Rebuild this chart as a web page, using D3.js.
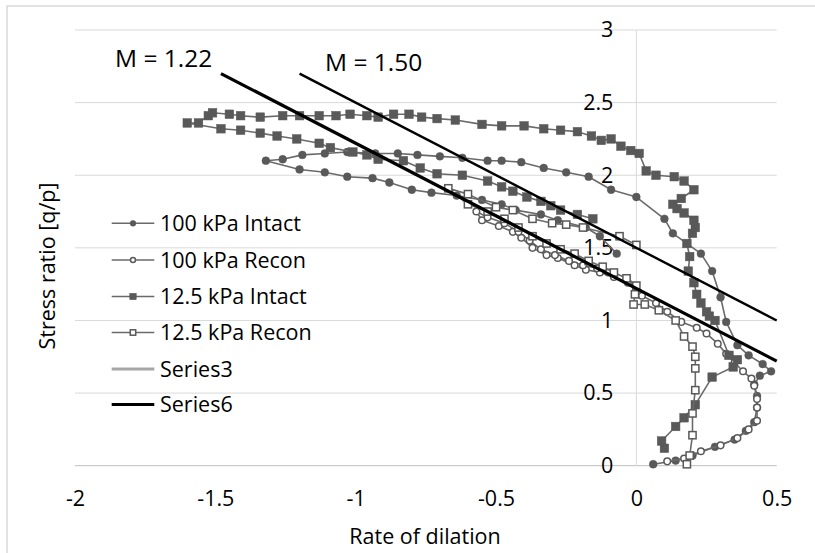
<!DOCTYPE html>
<html>
<head>
<meta charset="utf-8">
<script src="https://cdn.jsdelivr.net/npm/d3@7"></script>
<style>
  html, body { margin: 0; padding: 0; background: #fff; }
  svg { display: block; }
  text { font-family: "Open Sans", "Noto Sans", sans-serif; fill: #000; }
</style>
</head>
<body>
<div id="chart"></div>
<script>
// ---------------- data ----------------
const xTicks = [-2, -1.5, -1, -0.5, 0, 0.5];
const yTicks = [0, 0.5, 1, 1.5, 2, 2.5, 3];

const seriesNames = ["100 kPa Intact", "100 kPa Recon", "12.5 kPa Intact", "12.5 kPa Recon", "Series3", "Series6"];

const intact100 = [
  [0.06,0.01],[0.14,0.035],[0.2,0.07],[0.28,0.13],[0.35,0.18],[0.39,0.24],[0.42,0.30],[0.43,0.40],
  [0.43,0.48],[0.42,0.56],[0.44,0.62],[0.48,0.65],[0.45,0.70],[0.40,0.76],[0.36,0.83],[0.32,0.99],
  [0.30,1.16],[0.27,1.34],[0.23,1.46],[0.13,1.60],[0.10,1.70],[0.0,1.85],[-0.09,1.90],[-0.17,1.99],
  [-0.25,2.02],[-0.33,2.05],[-0.41,2.09],[-0.48,2.10],[-0.53,2.10],[-0.62,2.12],[-0.70,2.13],[-0.78,2.14],
  [-0.85,2.15],[-0.93,2.15],[-1.03,2.16],[-1.11,2.15],[-1.19,2.14],[-1.26,2.11],[-1.32,2.10],[-1.20,2.04],
  [-1.11,2.02],[-1.03,1.99],[-0.94,1.98],[-0.88,1.95],[-0.80,1.90],[-0.73,1.88],[-0.64,1.86],[-0.55,1.83],
  [-0.48,1.80],[-0.43,1.76],[-0.34,1.73],[-0.28,1.69],[-0.18,1.64],[-0.13,1.58],[-0.07,1.46]
];

const recon100 = [
  [0.11,0.03],[0.17,0.05],[0.23,0.10],[0.30,0.14],[0.36,0.19],[0.40,0.25],[0.43,0.31],[0.43,0.40],
  [0.43,0.46],[0.42,0.55],[0.41,0.60],[0.38,0.65],[0.35,0.71],[0.32,0.77],[0.29,0.84],[0.25,0.91],
  [0.215,0.95],[0.16,0.99],[0.11,1.06],[0.07,1.12],[0.02,1.17],[-0.03,1.26],[-0.08,1.30],[-0.13,1.33],
  [-0.18,1.35],[-0.22,1.38],[-0.28,1.43],[-0.32,1.45],[-0.37,1.50],[-0.41,1.57],[-0.44,1.61],[-0.49,1.65],
  [-0.55,1.69],[-0.57,1.75],[-0.53,1.71],[-0.47,1.67],[-0.42,1.61],[-0.38,1.55],[-0.34,1.49],[-0.29,1.45],
  [-0.24,1.41],[-0.19,1.38],[-0.14,1.36],[-0.10,1.33]
];

const intact125 = [
  [0.10,0.12],[0.09,0.17],[0.14,0.27],[0.17,0.33],[0.21,0.42],[0.27,0.61],[0.345,0.68],[0.36,0.73],
  [0.33,0.76],[0.28,1.0],[0.26,1.03],[0.25,1.06],[0.23,1.12],[0.215,1.18],[0.205,1.26],[0.185,1.34],
  [0.19,1.44],[0.18,1.53],[0.20,1.60],[0.21,1.64],[0.205,1.69],[0.17,1.74],[0.145,1.77],[0.13,1.80],
  [0.16,1.84],[0.205,1.90],[0.17,1.96],[0.135,1.99],[0.07,2.0],[0.035,2.03],[0.01,2.15],[-0.02,2.17],
  [-0.055,2.20],[-0.09,2.25],[-0.125,2.24],[-0.16,2.27],[-0.21,2.30],[-0.27,2.31],[-0.33,2.32],[-0.40,2.34],
  [-0.48,2.34],[-0.55,2.35],[-0.645,2.38],[-0.71,2.39],[-0.765,2.40],[-0.81,2.42],[-0.865,2.42],[-0.92,2.40],
  [-0.96,2.41],[-1.02,2.42],[-1.07,2.41],[-1.13,2.41],[-1.20,2.41],[-1.26,2.41],[-1.34,2.40],[-1.41,2.41],
  [-1.45,2.42],[-1.51,2.43],[-1.525,2.41],[-1.56,2.36],[-1.60,2.36],[-1.48,2.32],[-1.41,2.31],[-1.34,2.29],
  [-1.28,2.27],[-1.21,2.25],[-1.13,2.22],[-1.09,2.19],[-1.01,2.16],[-0.96,2.14],[-0.92,2.11],[-0.83,2.10],
  [-0.77,2.05],[-0.71,2.01],[-0.62,2.0],[-0.53,1.96],[-0.48,1.92],[-0.44,1.89],[-0.39,1.85],[-0.34,1.82],
  [-0.305,1.79],[-0.27,1.76],[-0.21,1.73],[-0.155,1.70]
];

const recon125 = [
  [0.18,0.01],[0.19,0.07],[0.20,0.21],[0.20,0.36],[0.21,0.52],[0.21,0.67],[0.21,0.75],[0.20,0.82],
  [0.17,0.89],[0.14,1.0],[0.08,1.07],[0.03,1.11],[-0.01,1.11],[-0.005,1.18],[0.0,1.24],[-0.035,1.29],
  [-0.08,1.33],[-0.12,1.37],[-0.17,1.41],[-0.22,1.46],[-0.27,1.49],[-0.32,1.53],[-0.37,1.58],[-0.42,1.64],
  [-0.47,1.70],[-0.53,1.75],[-0.60,1.80],[-0.67,1.91],[-0.60,1.87],[-0.50,1.78],[-0.44,1.76],[-0.37,1.70],
  [-0.30,1.67],[-0.25,1.66],[-0.19,1.64],[-0.06,1.58],[0.0,1.52]
];

// critical-state lines  q/p = M - dilation
const lineM122 = [[-1.48, 2.70], [0.5, 0.72]];
const lineM150 = [[-1.2, 2.70], [0.5, 1.0]];
const lineLabels = ["M = 1.22", "M = 1.50"];

// ---------------- chart ----------------
const W = 815, H = 553;
const svg = d3.select("#chart").append("svg").attr("width", W).attr("height", H);

// chart border (only left/top visible in the crop)
svg.append("rect").attr("x", 7).attr("y", 6).attr("width", 840).attr("height", 580)
  .attr("fill", "none").attr("stroke", "#d9d9d9").attr("stroke-width", 1.5);

const x = d3.scaleLinear().domain([-2, 0.5]).range([75, 776.7]);
const y = d3.scaleLinear().domain([0, 3]).range([465.7, 30]);

// gridlines
svg.append("g").selectAll("line").data(yTicks.filter(d => d !== 0)).join("line")
  .attr("x1", x(-2)).attr("x2", x(0.5))
  .attr("y1", d => y(d)).attr("y2", d => y(d))
  .attr("stroke", "#d9d9d9").attr("stroke-width", 1);

// axis lines
svg.append("line").attr("x1", x(-2)).attr("x2", x(0.5)).attr("y1", y(0)).attr("y2", y(0))
  .attr("stroke", "#bfbfbf").attr("stroke-width", 1);
svg.append("line").attr("x1", x(0)).attr("x2", x(0)).attr("y1", y(0)).attr("y2", y(3))
  .attr("stroke", "#d9d9d9").attr("stroke-width", 1);

// axes (labels only)
const fmt = d => String(d);
const gx = svg.append("g").attr("transform", `translate(0,${y(0)})`)
  .call(d3.axisBottom(x).tickValues(xTicks).tickSize(0).tickPadding(25).tickFormat(fmt));
gx.select(".domain").remove();
gx.selectAll("text").attr("font-size", 21.5).attr("font-family", "Open Sans").attr("fill", "#000");

const gy = svg.append("g").attr("transform", `translate(${x(0)},0)`)
  .call(d3.axisLeft(y).tickValues(yTicks).tickSize(0).tickPadding(23).tickFormat(fmt));
gy.select(".domain").remove();
gy.selectAll("text").attr("font-size", 21.5).attr("font-family", "Open Sans").attr("fill", "#000");

// axis titles
svg.append("text").attr("x", 425).attr("y", 544).attr("text-anchor", "middle")
  .attr("font-size", 21.5).text("Rate of dilation");
svg.append("text").attr("transform", "translate(55,266) rotate(-90)").attr("text-anchor", "middle")
  .attr("font-size", 21.5).text("Stress ratio [q/p]");

// series
const gray = "#595959";
const lineGen = d3.line().x(d => x(d[0])).y(d => y(d[1]));
const series = [
  { data: intact100, shape: "circle", filled: true },
  { data: recon100, shape: "circle", filled: false },
  { data: intact125, shape: "square", filled: true },
  { data: recon125, shape: "square", filled: false }
];

function drawMarker(g, shape, filled, cx, cy, scale) {
  if (shape === "circle") {
    const r = (filled ? 3.9 : 3.3) * scale;
    g.append("circle").attr("cx", cx).attr("cy", cy).attr("r", r)
      .attr("fill", filled ? gray : "#fff").attr("stroke", gray)
      .attr("stroke-width", filled ? 0.5 : 1.5);
  } else {
    const s = (filled ? 8.6 : 7.2) * scale;
    g.append("rect").attr("x", cx - s / 2).attr("y", cy - s / 2).attr("width", s).attr("height", s)
      .attr("fill", filled ? gray : "#fff").attr("stroke", gray)
      .attr("stroke-width", filled ? 0.5 : 1.5);
  }
}

series.forEach(s => {
  const g = svg.append("g");
  g.append("path").attr("d", lineGen(s.data)).attr("fill", "none")
    .attr("stroke", "#6a6a6a").attr("stroke-width", 1.6).attr("stroke-linejoin", "round");
  s.data.forEach(d => drawMarker(g, s.shape, s.filled, x(d[0]), y(d[1]), 1));
});

// M lines
svg.append("path").attr("d", lineGen(lineM122)).attr("stroke", "#000").attr("stroke-width", 3.2).attr("fill", "none");
svg.append("path").attr("d", lineGen(lineM150)).attr("stroke", "#000").attr("stroke-width", 2.4).attr("fill", "none");

svg.append("text").attr("x", 115).attr("y", 67).attr("font-size", 24.5).text(lineLabels[0]);
svg.append("text").attr("x", 325).attr("y", 71).attr("font-size", 24.5).text(lineLabels[1]);

// legend
const legendY = [223.3, 260, 296.5, 332.5, 369, 404.5];
const leg = svg.append("g");
seriesNames.forEach((name, i) => {
  const yy = legendY[i];
  let stroke = "#6a6a6a", sw = 1.6;
  if (i === 4) { stroke = "#a6a6a6"; sw = 3; }
  if (i === 5) { stroke = "#000"; sw = 3; }
  leg.append("line").attr("x1", 111.7).attr("x2", 154.3).attr("y1", yy).attr("y2", yy)
    .attr("stroke", stroke).attr("stroke-width", sw);
  if (i < 4) drawMarker(leg, series[i].shape, series[i].filled, 133, yy, 0.75);
  leg.append("text").attr("x", 160).attr("y", yy).attr("dy", "0.35em")
    .attr("font-size", 21.5).text(name);
});
</script>
</body>
</html>
